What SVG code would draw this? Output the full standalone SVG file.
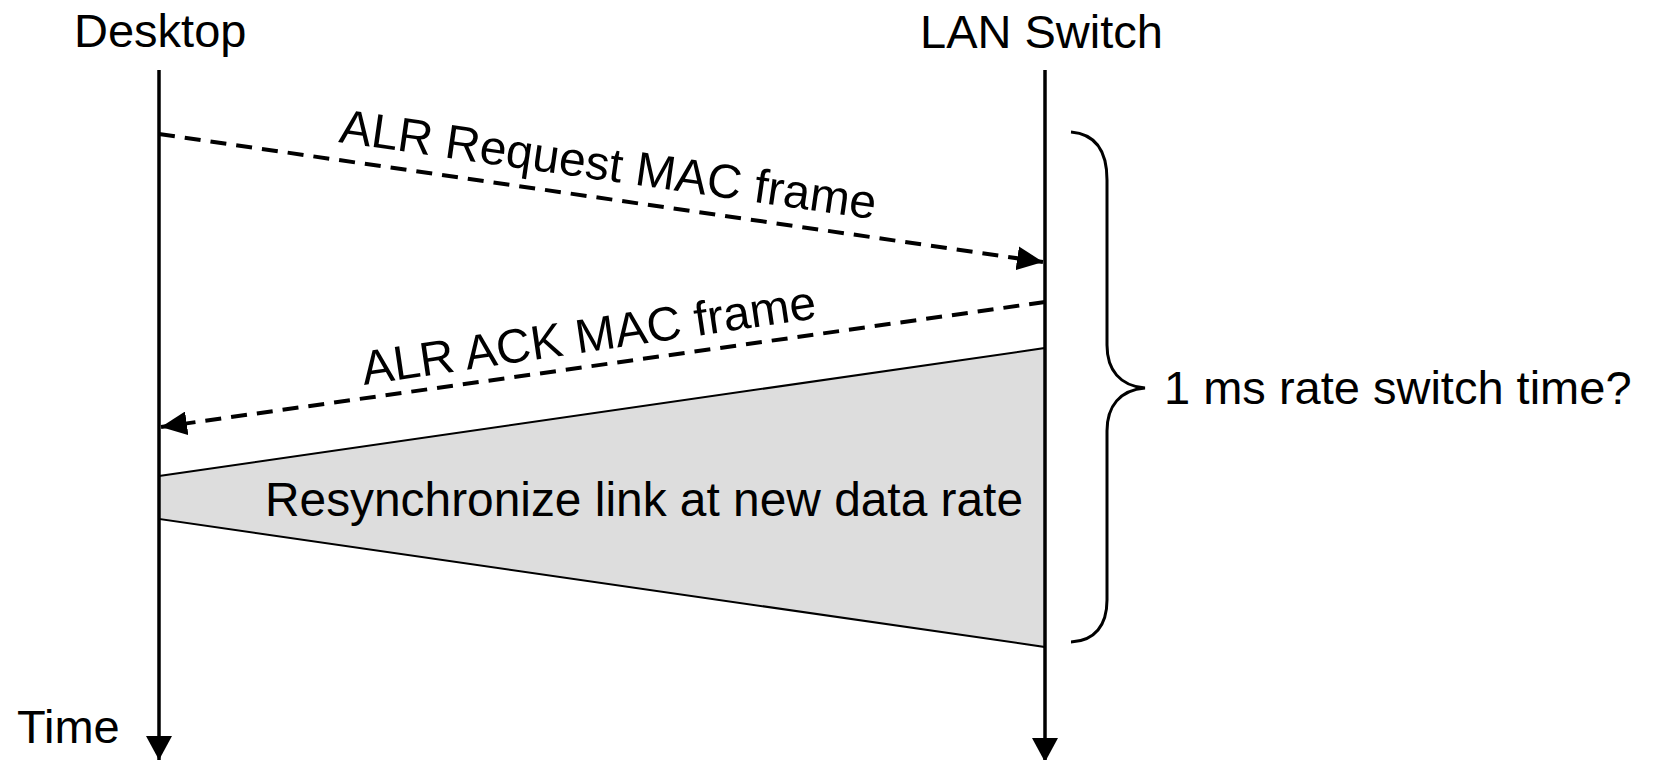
<svg xmlns="http://www.w3.org/2000/svg" width="1655" height="760" viewBox="0 0 1655 760">
  <style>
    .lbl { font-family: "Liberation Sans", Arial, sans-serif; font-size: 47px; fill: #000; }
    .big { font-size: 48px; }
    .life { stroke: #000; stroke-width: 3.5; fill: none; }
    .msg { stroke: #000; stroke-width: 4; fill: none; stroke-dasharray: 16 10; }
    .band { fill: #dddddd; stroke: #000; stroke-width: 2; }
    .brace { stroke: #000; stroke-width: 3; fill: none; }
  </style>
  <defs>
    <marker id="headDown" viewBox="0 0 24 26" refX="24" refY="13" markerWidth="24" markerHeight="26" markerUnits="userSpaceOnUse" orient="auto">
      <path d="M0,0 L24,13 L0,26 z" fill="#000"/>
    </marker>
    <marker id="headMsg" viewBox="0 0 26 24" refX="26" refY="12" markerWidth="26" markerHeight="24" markerUnits="userSpaceOnUse" orient="auto">
      <path d="M0,0 L26,12 L0,24 z" fill="#000"/>
    </marker>
  </defs>

  <g id="resync">
    <polygon class="band" points="159,476 1045,348 1045,647 159,519"/>
    <text class="lbl big" x="265" y="516" textLength="758" lengthAdjust="spacingAndGlyphs">Resynchronize link at new data rate</text>
  </g>

  <g id="desktop">
    <text class="lbl" x="74" y="47">Desktop</text>
    <line class="life" x1="159" y1="70" x2="159" y2="760" marker-end="url(#headDown)"/>
  </g>

  <g id="lanswitch">
    <text class="lbl" x="920" y="48">LAN Switch</text>
    <line class="life" x1="1045" y1="70" x2="1045" y2="762" marker-end="url(#headDown)"/>
  </g>

  <g id="time">
    <text class="lbl" x="17" y="743">Time</text>
  </g>

  <g id="connectors">
    <line class="msg" x1="159" y1="134" x2="1043" y2="262" marker-end="url(#headMsg)"/>
    <line class="msg" x1="1045" y1="302" x2="161" y2="427" marker-end="url(#headMsg)"/>
    <text class="lbl big" transform="translate(338,142) rotate(8.2)">ALR Request MAC frame</text>
    <text class="lbl big" transform="translate(364,385) rotate(-8.4)">ALR ACK MAC frame</text>
  </g>

  <g id="brace">
    <path class="brace" d="M1071,132 C1095,134 1107,150 1107,180 L1107,345 C1107,370 1120,386 1145,388 C1120,390 1107,406 1107,431 L1107,600 C1107,625 1095,641 1071,642"/>
    <text class="lbl" x="1164" y="404">1 ms rate switch time?</text>
  </g>
</svg>
